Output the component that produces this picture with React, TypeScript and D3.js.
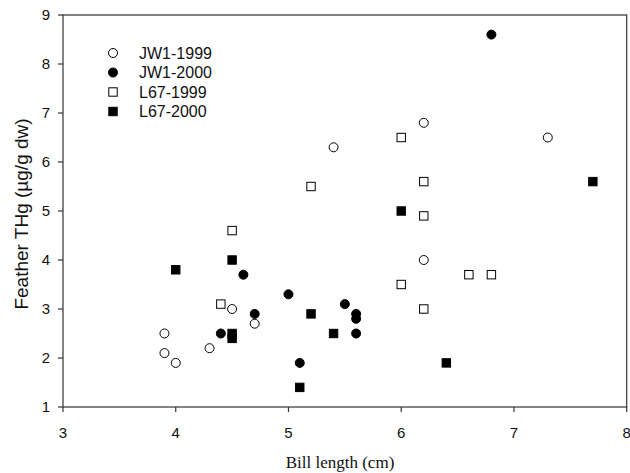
import React from "react";
import * as d3 from "d3";

const jw1999X = [3.9, 3.9, 4.0, 4.3, 4.5, 4.7, 5.4, 6.2, 6.2, 7.3];
const jw1999Y = [2.5, 2.1, 1.9, 2.2, 3.0, 2.7, 6.3, 6.8, 4.0, 6.5];
const jw2000X = [4.4, 4.6, 4.7, 5.0, 5.1, 5.5, 5.6, 5.6, 5.6, 6.8];
const jw2000Y = [2.5, 3.7, 2.9, 3.3, 1.9, 3.1, 2.9, 2.8, 2.5, 8.6];
const l671999X = [4.4, 4.5, 5.2, 6.0, 6.0, 6.2, 6.2, 6.2, 6.6, 6.8];
const l671999Y = [3.1, 4.6, 5.5, 6.5, 3.5, 5.6, 4.9, 3.0, 3.7, 3.7];
const l672000X = [4.0, 4.5, 4.5, 4.5, 5.1, 5.2, 5.4, 6.0, 6.4, 7.7];
const l672000Y = [3.8, 4.0, 2.5, 2.4, 1.4, 2.9, 2.5, 5.0, 1.9, 5.6];

const seriesNames = ["JW1-1999", "JW1-2000", "L67-1999", "L67-2000"];
const xTicks = [3, 4, 5, 6, 7, 8];
const yTicks = [1, 2, 3, 4, 5, 6, 7, 8, 9];
const xTitle = "Bill length (cm)";
const yTitle = "Feather THg (µg/g dw)";

const W = 630;
const H = 473;
const left = 63;
const right = 626.7;
const top = 15;
const bottom = 407;

const series = [
  { name: seriesNames[0], xs: jw1999X, ys: jw1999Y, shape: "circle", filled: false },
  { name: seriesNames[1], xs: jw2000X, ys: jw2000Y, shape: "circle", filled: true },
  { name: seriesNames[2], xs: l671999X, ys: l671999Y, shape: "square", filled: false },
  { name: seriesNames[3], xs: l672000X, ys: l672000Y, shape: "square", filled: true },
];

function Marker({ cx, cy, shape, filled }: { cx: number; cy: number; shape: string; filled: boolean }) {
  const fill = filled ? "#000" : "#fff";
  if (shape === "circle") {
    return <circle cx={cx} cy={cy} r={4.5} fill={fill} stroke="#000" strokeWidth={1} />;
  }
  const s = 8.4;
  return <rect x={cx - s / 2} y={cy - s / 2} width={s} height={s} fill={fill} stroke="#000" strokeWidth={1} />;
}

export default function App() {
  const x = d3.scaleLinear().domain([3, 8]).range([left, right]);
  const y = d3.scaleLinear().domain([1, 9]).range([bottom, top]);
  const sans = "Liberation Sans, Arial, sans-serif";
  const axisColor = "#333";

  return (
    <svg width={W} height={H} style={{ position: "absolute", left: 0, top: 0, background: "#fff" }}>
      <rect x={0} y={0} width={W} height={H} fill="#fff" />
      <rect x={left} y={top} width={right - left} height={bottom - top} fill="none" stroke={axisColor} strokeWidth={1.2} />
      {xTicks.map((t) => (
        <g key={"x" + t}>
          <line x1={x(t)} x2={x(t)} y1={bottom} y2={bottom + 5} stroke={axisColor} strokeWidth={1.2} />
          <text x={x(t)} y={bottom + 31} textAnchor="middle" fontFamily={sans} fontSize={15} fill="#111">
            {t}
          </text>
        </g>
      ))}
      {yTicks.map((t) => (
        <g key={"y" + t}>
          <line x1={left - 5} x2={left} y1={y(t)} y2={y(t)} stroke={axisColor} strokeWidth={1.2} />
          <text x={left - 13} y={y(t)} dy="0.36em" textAnchor="end" fontFamily={sans} fontSize={15} fill="#111">
            {t}
          </text>
        </g>
      ))}
      <text x={340} y={468} textAnchor="middle" fontFamily="Liberation Serif, Times New Roman, serif" fontSize={17} fill="#111">
        {xTitle}
      </text>
      <text transform="translate(28,214) rotate(-90)" textAnchor="middle" fontFamily={sans} fontSize={19} fill="#111">
        {yTitle}
      </text>
      {series.map((s) =>
        s.xs.map((xv, i) => (
          <Marker key={s.name + i} cx={x(xv)} cy={y(s.ys[i])} shape={s.shape} filled={s.filled} />
        ))
      )}
      {series.map((s, i) => (
        <g key={"leg" + i}>
          <Marker cx={113} cy={53 + i * 19.5} shape={s.shape} filled={s.filled} />
          <text x={139} y={53 + i * 19.5} dy="0.36em" fontFamily={sans} fontSize={16} fill="#111">
            {s.name}
          </text>
        </g>
      ))}
    </svg>
  );
}
